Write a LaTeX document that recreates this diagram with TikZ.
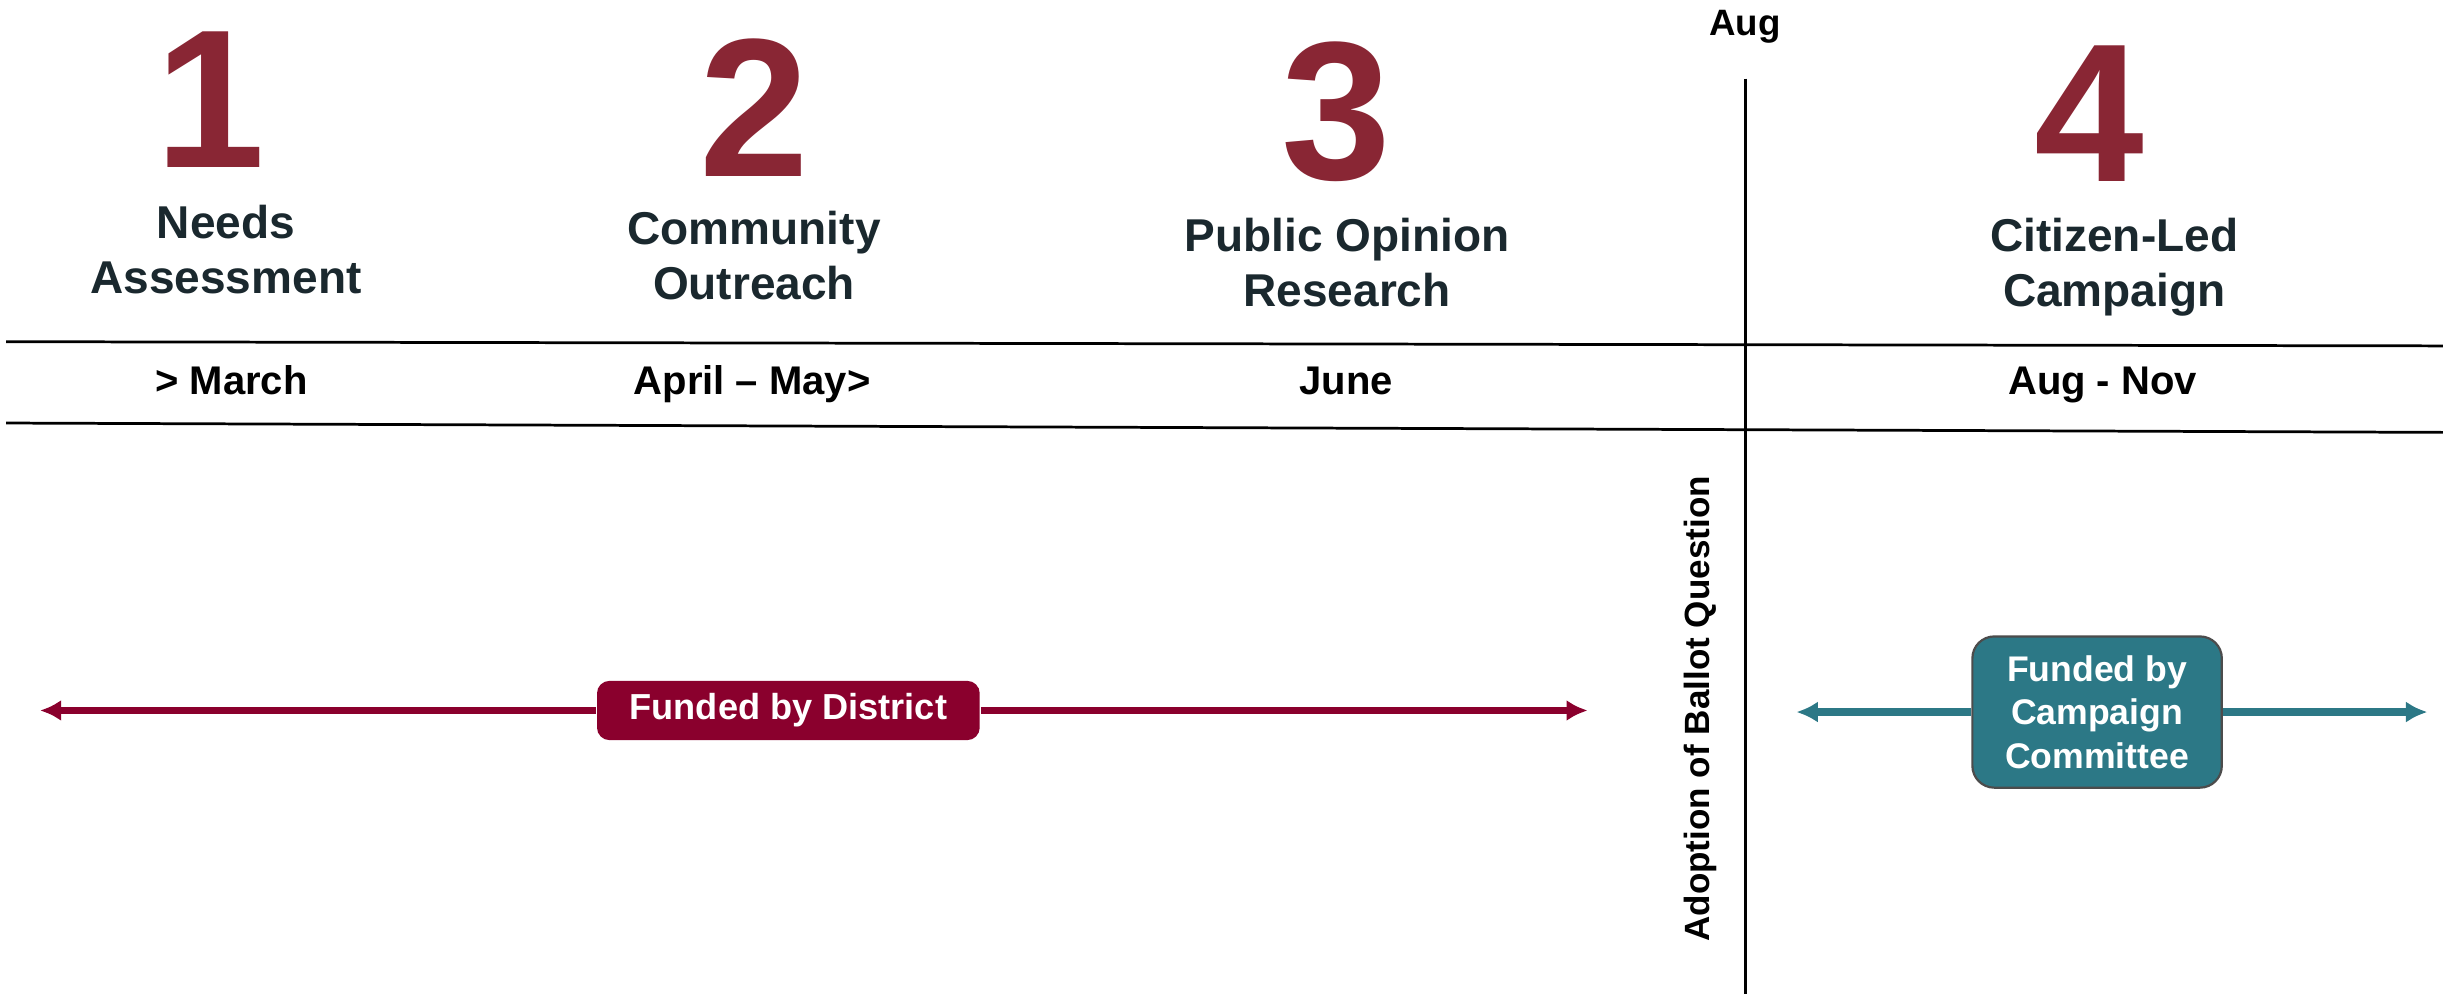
\documentclass[tikz,border=0pt]{standalone}
\usepackage{fontspec}
\setmainfont{Liberation Sans}
\usepackage{tikz}
\usetikzlibrary{arrows.meta}
\definecolor{numred}{HTML}{892634}
\definecolor{titlegray}{HTML}{1A282E}
\definecolor{distred}{HTML}{8A002D}
\definecolor{campteal}{HTML}{2C7886}
\tikzstyle{num}=[text=numred,inner sep=0pt,
font=\fontsize{36}{40}\selectfont\bfseries]
\tikzstyle{phase}=[text=titlegray,anchor=north,align=center,inner sep=0pt,
font=\fontsize{8.4}{10.07}\selectfont\bfseries]
\tikzstyle{when}=[anchor=base,inner sep=0pt,font=\fontsize{7.3}{8.8}\selectfont\bfseries]
\tikzstyle{rule}=[line width=0.5pt]
\tikzstyle{fundd}=[rectangle,rounded corners=0.08cm,fill=distred,text=white,
minimum width=2.455cm,minimum height=0.38cm,inner sep=0pt,
font=\fontsize{6.6}{8}\selectfont\bfseries]
\tikzstyle{fundc}=[rectangle,rounded corners=0.14cm,fill=campteal,draw=black!70,line width=0.4pt,
text=white,align=center,minimum width=1.6cm,minimum height=0.97cm,inner sep=0pt,
font=\fontsize{6.5}{7.9}\selectfont\bfseries]
\tikzstyle{redarr}=[draw=distred,line width=1.3pt,-{Latex[length=0.135cm,width=0.135cm]}]
\tikzstyle{tealarr}=[draw=campteal,line width=1.3pt,-{Latex[length=0.138cm,width=0.137cm]}]

\begin{document}
\begin{tikzpicture}[x=0.01cm,y=-0.01cm]
        \useasboundingbox (0,0) rectangle (1568,638);
        \node [style=num] (n1) at (135,64) {1};
        \node [style=num] (n2) at (484,69) {2};
        \node [style=num] (n3) at (858,71.6) {3};
        \node [style=num] (n4) at (1341,72.7) {4};
        \node [style=phase] (p1) at (145,130.7) {Needs\\Assessment};
        \node [style=phase] (p2) at (484,134.7) {Community\\Outreach};
        \node [style=phase] (p3) at (864.6,139.2) {Public Opinion\\Research};
        \node [style=phase] (p4) at (1357,139.2) {Citizen-Led\\Campaign};
        \node [style=when] (d1) at (148.6,253) {> March};
        \node [style=when] (d2) at (482.7,253) {April – May>};
        \node [style=when] (d3) at (864,253) {June};
        \node [style=when] (d4) at (1349.5,253) {Aug - Nov};
        \node [style=when,font=\fontsize{6.7}{8}\selectfont\bfseries] (aug) at (1120,22.5) {Aug};
        \node [style=when,rotate=90,font=\fontsize{6.4}{7.5}\selectfont\bfseries] (ballot) at (1097.5,455) {Adoption of Ballot Question};
        \coordinate (t1l) at (4,219.3);
        \coordinate (t1r) at (1568,222);
        \coordinate (t2l) at (4,271.5);
        \coordinate (t2r) at (1568,277.5);
        \coordinate (vt) at (1120.5,50.5);
        \coordinate (vb) at (1120.5,638);
        \draw [style=rule] (t1l) to (t1r);
        \draw [style=rule] (t2l) to (t2r);
        \draw [style=rule] (vt) to (vb);
        \node [style=fundd] (fd) at (506,456) {Funded by District};
        \node [style=fundc] (fc) at (1346,457) {Funded by\\Campaign\\Committee};
        \coordinate (dl) at (25.7,456);
        \coordinate (dr) at (1019,456);
        \coordinate (cl) at (1153,457);
        \coordinate (cr) at (1558,457);
        \draw [style=redarr] (fd) to (dl);
        \draw [style=redarr] (fd) to (dr);
        \draw [style=tealarr] (fc) to (cl);
        \draw [style=tealarr] (fc) to (cr);
    \end{tikzpicture}
\end{document}
